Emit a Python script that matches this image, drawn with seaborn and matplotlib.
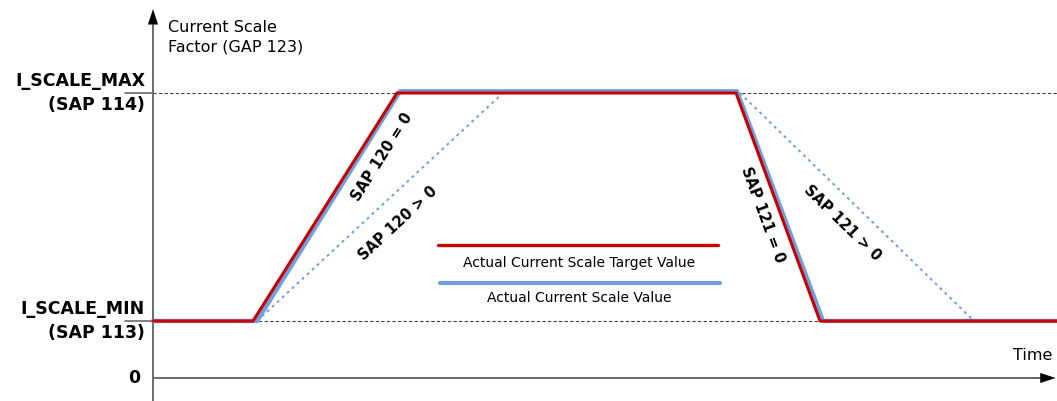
import numpy as np
import pandas as pd
import seaborn as sns
import matplotlib.pyplot as plt

# scale units: 0 = zero, 1 = I_SCALE_MIN, 5 = I_SCALE_MAX ; time in arbitrary units
target_time = [0.0, 10.0, 24.4, 58.3, 66.7, 90.4]
target_scale = [1, 1, 5, 5, 1, 1]
actual_time = [0.0, 10.4, 24.7, 58.4, 67.0, 90.4]
actual_scale = [1, 1, 5.03, 5.03, 1, 1]
ramp_up_slow_time = [10.4, 35.0]
ramp_up_slow_scale = [1, 5]
ramp_down_slow_time = [58.7, 82.1]
ramp_down_slow_scale = [5, 1]
scale_levels = [0, 1, 5]
level_labels = ["0", "I_SCALE_MIN\n(SAP 113)", "I_SCALE_MAX\n(SAP 114)"]

RED = "#C80000"
BLUE = "#6F9FDC"
GRAY = "#6b6b6b"

sns.set_theme(style="white")
plt.rcParams["font.family"] = ["DejaVu Sans"]
plt.rcParams["text.color"] = "black"

fig = plt.figure(figsize=(10.57, 4.01), dpi=100)
ax = fig.add_axes([0, 0, 1, 1])
ax.set_xlim(-15.3, 90.4)
ax.set_ylim(-23 / 57, 378 / 57)
ax.axis("off")

df_target = pd.DataFrame({"t": target_time, "v": target_scale})
df_actual = pd.DataFrame({"t": actual_time, "v": actual_scale})

# reference levels
for lv in scale_levels[1:]:
    ax.plot([0, 90.4], [lv, lv], color="#404040", lw=0.8, ls=(0, (3, 2)), zorder=1)
    ax.plot([-2.8, 0], [lv, lv], color=GRAY, lw=1.2, zorder=1)

# axes with arrows
ax.plot([0, 0], [-0.41, 6.2], color=GRAY, lw=1.4, zorder=2)
ax.annotate("", xy=(0, 6.47), xytext=(0, 6.1),
            arrowprops=dict(arrowstyle="-|>,head_length=0.9,head_width=0.3", color="black", lw=0.1, shrinkA=0, shrinkB=0))
ax.plot([0, 88.8], [0, 0], color=GRAY, lw=1.4, zorder=2)
ax.annotate("", xy=(90.25, 0), xytext=(88.0, 0),
            arrowprops=dict(arrowstyle="-|>,head_length=0.9,head_width=0.3", color="black", lw=0.1, shrinkA=0, shrinkB=0))

# curves
sns.lineplot(data=df_actual, x="t", y="v", sort=False, estimator=None, color=BLUE, lw=3.2, ax=ax, zorder=3)
sns.lineplot(data=df_target, x="t", y="v", sort=False, estimator=None, color=RED, lw=2.2, ax=ax, zorder=4)
sns.lineplot(x=ramp_up_slow_time, y=ramp_up_slow_scale, sort=False, estimator=None, color=BLUE,
             lw=1.4, ls=(0, (1.5, 2)), ax=ax, zorder=3)
sns.lineplot(x=ramp_down_slow_time, y=ramp_down_slow_scale, sort=False, estimator=None, color=BLUE,
             lw=1.4, ls=(0, (1.5, 2)), ax=ax, zorder=3)
ax.set_xlim(-15.3, 90.4)
ax.set_ylim(-23 / 57, 378 / 57)


def angle(t, v):
    p = ax.transData.transform(np.column_stack([t, v]))
    return np.degrees(np.arctan2(p[1, 1] - p[0, 1], p[1, 0] - p[0, 0]))


fig.canvas.draw()
bold = dict(fontsize=10.5, fontweight="bold", ha="center", va="center", color="black")
ax.text(22.9, 3.88, "SAP 120 = 0", rotation=angle(target_time[1:3], target_scale[1:3]), **bold)
ax.text(24.5, 2.72, "SAP 120 > 0", rotation=angle(ramp_up_slow_time, ramp_up_slow_scale), **bold)
ax.text(61.0, 2.86, "SAP 121 = 0", rotation=angle(target_time[3:5], target_scale[3:5]), **bold)
ax.text(68.9, 2.72, "SAP 121 > 0", rotation=angle(ramp_down_slow_time, ramp_down_slow_scale), **bold)

# level labels
for lv, lab in zip(scale_levels, level_labels):
    ax.text(-0.8 if lv else -1.3, lv, lab, ha="right", va="center", fontsize=12.5,
            fontweight="bold", linespacing=1.4)

ax.text(1.5, 5.98, "Current Scale\nFactor (GAP 123)", ha="left", va="center", fontsize=11.5,
        linespacing=1.4)
ax.text(89.9, 0.40, "Time", ha="right", va="center", fontsize=11.5)

# legend box in the middle
ax.plot([28.5, 56.5], [2.33, 2.33], color=RED, lw=2.4, solid_capstyle="round")
ax.text(42.6, 2.02, "Actual Current Scale Target Value", ha="center", va="center", fontsize=10)
ax.plot([28.7, 56.7], [1.67, 1.67], color=BLUE, lw=3.0, solid_capstyle="round")
ax.text(42.6, 1.40, "Actual Current Scale Value", ha="center", va="center", fontsize=10)

fig.savefig("out.png", dpi=100)
